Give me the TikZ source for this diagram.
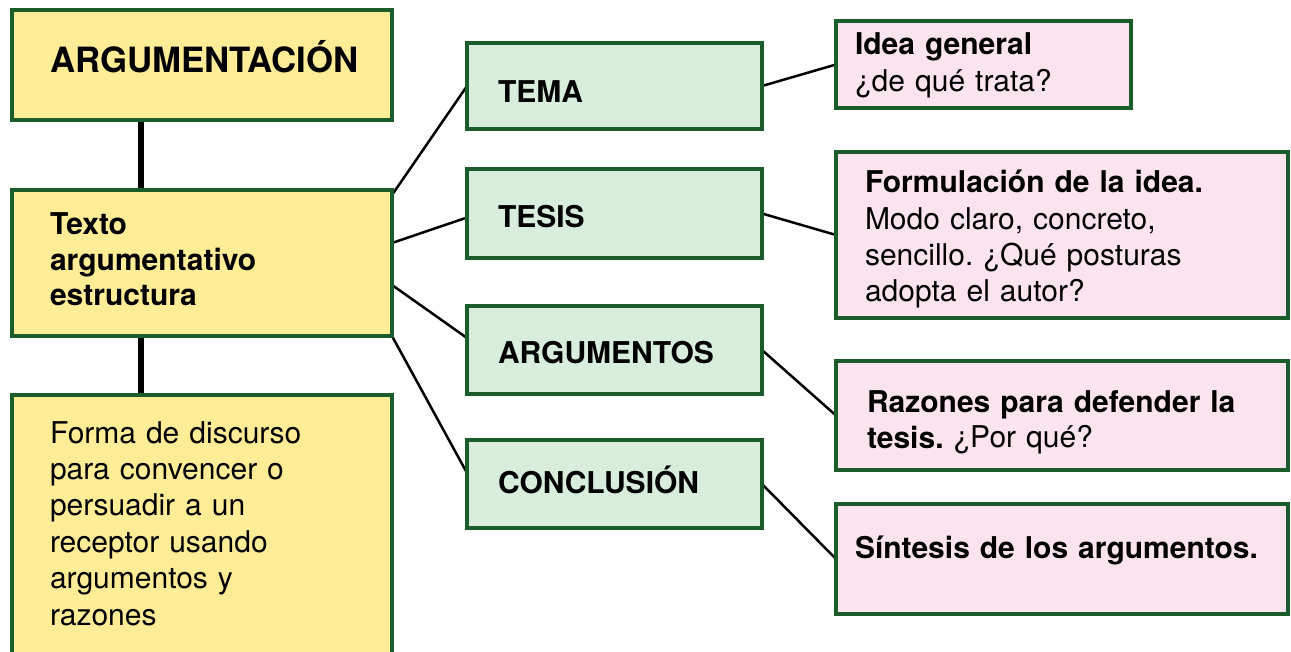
\documentclass[tikz,border=0pt]{standalone}
\usepackage{fontspec}
\setmainfont{TeX Gyre Heros}
\usetikzlibrary{backgrounds}
\definecolor{edgegreen}{HTML}{1A5C2A}
\definecolor{yfill}{HTML}{FEEC97}
\definecolor{gfill}{HTML}{D9EDDD}
\definecolor{pfill}{HTML}{FCE4EE}
\frenchspacing
\begin{document}
\begin{tikzpicture}[x=1pt,y=-1pt,
  box/.style={rectangle,draw=edgegreen,line width=3.5pt,inner sep=0pt,outer sep=0pt},
  ybox/.style={box,fill=yfill},
  gbox/.style={box,fill=gfill},
  pbox/.style={box,fill=pfill},
  lbl/.style={anchor=base west,inner sep=0pt,outer sep=0pt,align=left,text width=#1,font=\fontsize{30}{36.3}\selectfont},
  lbl/.default=420pt,
  conn/.style={line width=2.5pt,black},
  trunk/.style={line width=6pt,black}]
\useasboundingbox (0,0) rectangle (1291,652);
% boxes
\node[ybox,minimum width=380pt,minimum height=110pt] (b1) at (202,65) {};
\node[ybox,minimum width=380pt,minimum height=146pt] (b2) at (202,263) {};
\node[ybox,minimum width=380pt,minimum height=277pt] (b3) at (202,533.5) {};
\node[gbox,minimum width=295pt,minimum height=86pt] (t1) at (614.5,86) {};
\node[gbox,minimum width=295pt,minimum height=89pt] (t2) at (614.5,213.5) {};
\node[gbox,minimum width=295pt,minimum height=88pt] (t3) at (614.5,350) {};
\node[gbox,minimum width=295pt,minimum height=88pt] (t4) at (614.5,484) {};
\node[pbox,minimum width=295pt,minimum height=87pt] (p1) at (983.5,64.5) {};
\node[pbox,minimum width=452pt,minimum height=166pt] (p2) at (1062,235) {};
\node[pbox,minimum width=452pt,minimum height=109pt] (p3) at (1062,415.5) {};
\node[pbox,minimum width=452pt,minimum height=110pt] (p4) at (1062,559) {};
% connectors
\begin{scope}[on background layer]
\fill[white] (0,0) rectangle (1291,652);
\draw[trunk] ([xshift=-61pt]b1.south) -- ([xshift=-61pt]b2.north);
\draw[trunk] ([xshift=-61pt]b2.south) -- ([xshift=-61pt]b3.north);
\draw[conn] ([yshift=-5pt]b2.north east) -- (t1.west);
\draw[conn] ([yshift=20pt]b2.east) -- ([yshift=-4pt]t2.west);
\draw[conn] ([yshift=-22pt]b2.east) -- ([yshift=12pt]t3.west);
\draw[conn] (b2.south east) -- ([yshift=11pt]t4.west);
\draw[conn] (t1.east) -- (p1.west);
\draw[conn] (t2.east) -- (p2.west);
\draw[conn] (t3.east) -- (p3.west);
\draw[conn] (t4.east) -- (p4.west);
\end{scope}
% texts
\node[lbl,font=\fontsize{34.8}{40}\selectfont\bfseries] (l1) at (50,73) {ARGUMENTACIÓN};
\node[lbl,font=\fontsize{30}{35.5}\selectfont\bfseries] (l2) at (50,235) {Texto\\argumentativo\\estructura};
\node[lbl,font=\fontsize{30}{36.4}\selectfont] (l3) at (50,443) {Forma de discurso\\para convencer o\\persuadir a un\\receptor usando\\argumentos y\\razones};
\node[lbl,font=\fontsize{30}{36}\selectfont\bfseries] (lt1) at (498,103) {TEMA};
\node[lbl,font=\fontsize{30}{36}\selectfont\bfseries] (lt2) at (498,228) {TESIS};
\node[lbl,font=\fontsize{30}{36}\selectfont\bfseries] (lt3) at (498,363) {ARGUMENTOS};
\node[lbl,font=\fontsize{30}{36}\selectfont\bfseries] (lt4) at (498,493) {CONCLUSIÓN};
\node[lbl,font=\fontsize{30}{37}\selectfont] (lp1) at (855,55) {\textbf{Idea general}\\¿de qué trata?};
\node[lbl,font=\fontsize{30}{36.3}\selectfont] (lp2) at (865,193) {\textbf{Formulación de la idea.}\\Modo claro, concreto,\\sencillo. ¿Qué posturas\\adopta el autor?};
\node[lbl,font=\fontsize{30}{36}\selectfont] (lp3) at (867,412) {\textbf{Razones para defender la}\\\textbf{tesis.} ¿Por qué?};
\node[lbl,font=\fontsize{30}{36}\selectfont\bfseries] (lp4) at (855,558) {Síntesis de los argumentos.};
\end{tikzpicture}
\end{document}
